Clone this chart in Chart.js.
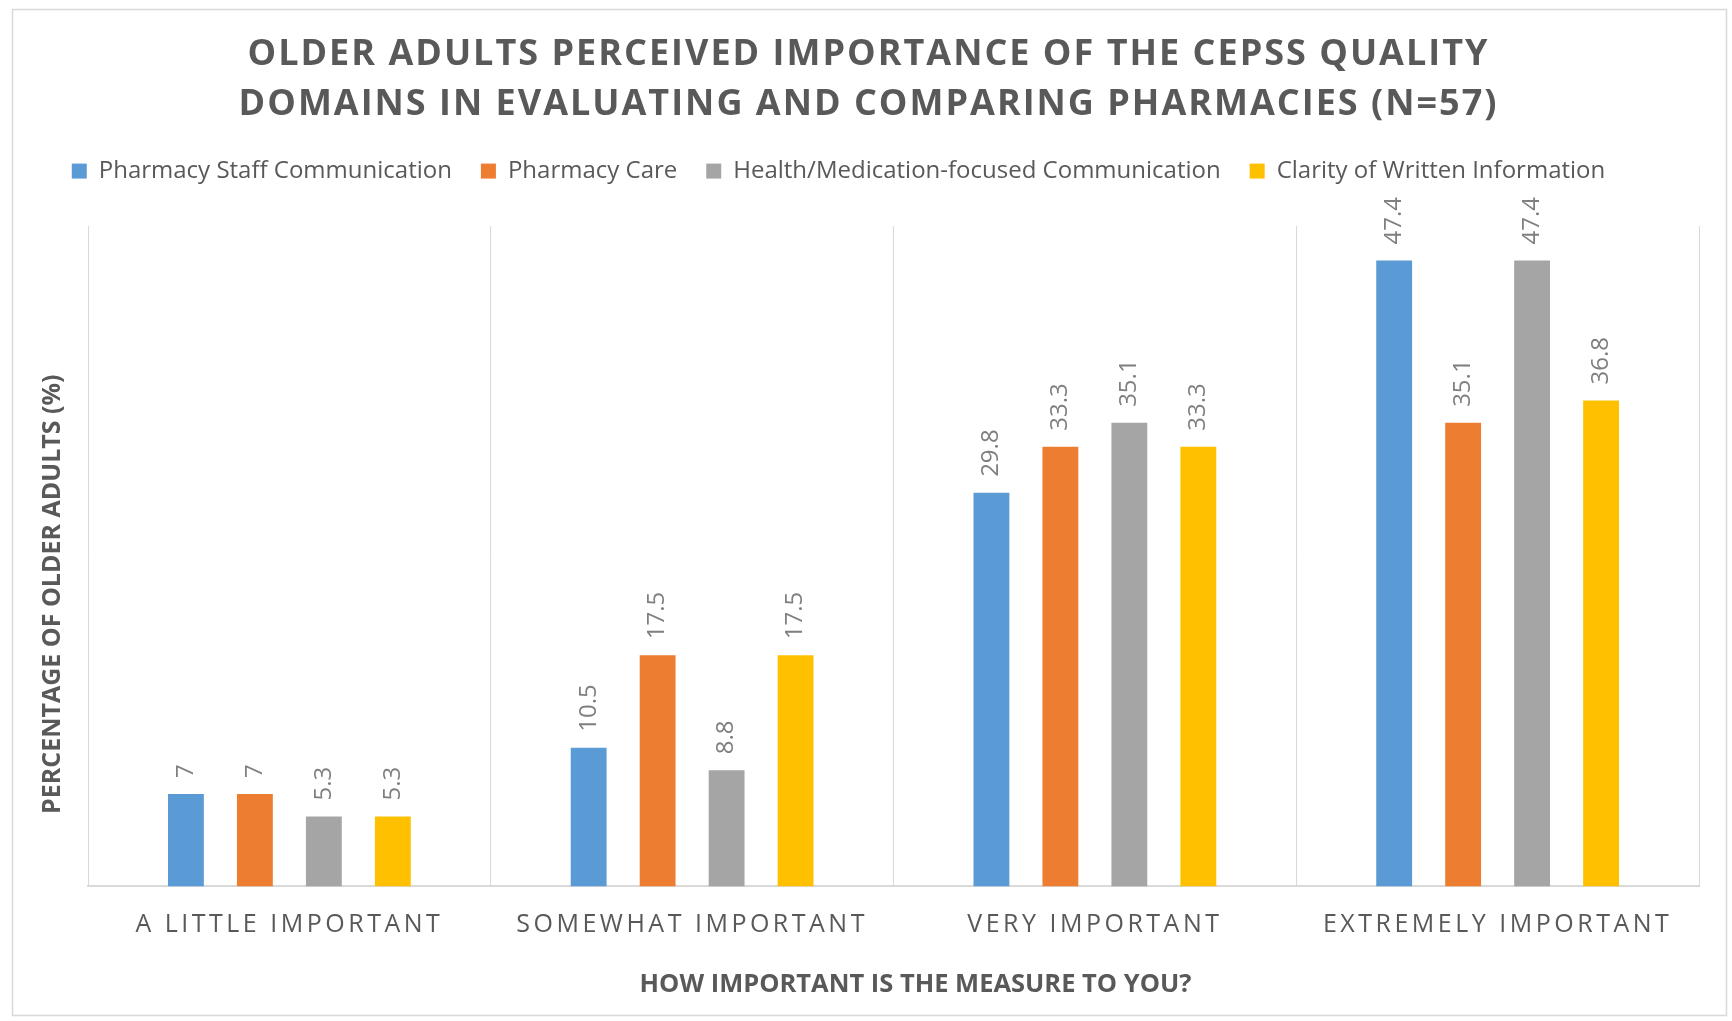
<!DOCTYPE html>
<html>
<head>
<meta charset="utf-8">
<script src="https://cdn.jsdelivr.net/npm/chart.js@4.4.0/dist/chart.umd.min.js"></script>
<style>
  body { margin: 0; background: #fff; }
  #wrap { width: 1732px; height: 1021px; position: relative; }
</style>
</head>
<body>
<div id="wrap"><canvas id="myChart"></canvas></div>
<script>
var categories = ['A LITTLE IMPORTANT', 'SOMEWHAT IMPORTANT', 'VERY IMPORTANT', 'EXTREMELY IMPORTANT'];
var seriesNames = ['Pharmacy Staff Communication', 'Pharmacy Care', 'Health/Medication-focused Communication', 'Clarity of Written Information'];
var staffComm = [7, 10.5, 29.8, 47.4];
var pharmacyCare = [7, 17.5, 33.3, 35.1];
var healthComm = [5.3, 8.8, 35.1, 47.4];
var writtenInfo = [5.3, 17.5, 33.3, 36.8];
var colors = ['#5B9BD5', '#ED7D31', '#A5A5A5', '#FFC000'];

// border round the whole chart, like the office chart frame
var frame = {
    id: 'frame',
    beforeDraw: function (chart) {
        var ctx = chart.ctx;
        ctx.save();
        ctx.strokeStyle = '#d9d9d9';
        ctx.lineWidth = 1.5;
        ctx.strokeRect(12.5, 9.5, 1714, 1006);
        ctx.restore();
    }
};

function shiftTitle(scale, dx, dy) {
    if (!scale || scale._shifted) return;
    var orig = scale.drawTitle;
    scale.drawTitle = function () {
        this.ctx.save();
        this.ctx.translate(dx, dy);
        orig.call(this);
        this.ctx.restore();
    };
    scale._shifted = true;
}

// spaced letters for title and category labels, extra room under the legend
var spacing = {
    id: 'spacing',
    afterInit: function (chart) {
        var lg = chart.legend;
        if (lg && !lg._patched) {
            var fit = lg.fit;
            lg.fit = function () {
                fit.call(this);
                this.height += 33;
            };
            lg._patched = true;
        }
    },
    afterLayout: function (chart) {
        var lg = chart.legend;
        if (lg) {
            lg.left -= 30;
            lg.right -= 30;
        }
        var x = chart.scales.x;
        if (x && !x._spaced) {
            var origLabels = x.drawLabels;
            x.drawLabels = function (a) {
                this.ctx.save();
                this.ctx.letterSpacing = '3.5px';
                origLabels.call(this, a);
                this.ctx.restore();
            };
            x._spaced = true;
        }
        shiftTitle(x, 22, 0);
        shiftTitle(chart.scales.y, 0, 38);
        var t = chart.titleBlock;
        if (t && !t._spaced) {
            var origTitle = t.draw;
            t.draw = function () {
                this.ctx.save();
                this.ctx.letterSpacing = '2px';
                origTitle.call(this);
                this.ctx.restore();
            };
            t._spaced = true;
        }
    }
};

// rotated value labels above each bar
var valueLabels = {
    id: 'valueLabels',
    afterDatasetsDraw: function (chart) {
        var ctx = chart.ctx;
        ctx.save();
        ctx.font = '24px "Open Sans"';
        ctx.fillStyle = '#7f7f7f';
        ctx.textAlign = 'left';
        ctx.textBaseline = 'middle';
        chart.data.datasets.forEach(function (ds, i) {
            chart.getDatasetMeta(i).data.forEach(function (bar, j) {
                ctx.save();
                ctx.translate(bar.x, bar.y - 16);
                ctx.rotate(-Math.PI / 2);
                ctx.fillText(String(ds.data[j]), 0, 0);
                ctx.restore();
            });
        });
        ctx.restore();
    }
};

var allData = [staffComm, pharmacyCare, healthComm, writtenInfo];
var datasets = allData.map(function (d, i) {
    return {
        label: seriesNames[i],
        data: d,
        backgroundColor: colors[i],
        categoryPercentage: 0.685,
        barPercentage: 0.52
    };
});

var ctx = document.getElementById('myChart').getContext('2d');
var myChart = new Chart(ctx, {
    type: 'bar',
    data: { labels: categories, datasets: datasets },
    plugins: [frame, spacing, valueLabels],
    options: {
        responsive: true,
        maintainAspectRatio: false,
        animation: false,
        layout: { padding: { top: 10, left: 38, right: 33, bottom: 21 } },
        plugins: {
            title: {
                display: true,
                text: ['OLDER ADULTS PERCEIVED IMPORTANCE OF THE CEPSS QUALITY', 'DOMAINS IN EVALUATING AND COMPARING PHARMACIES (N=57)'],
                color: '#595959',
                font: { family: 'Open Sans', size: 36, weight: 'bold', lineHeight: 1.39 },
                padding: { top: 20, bottom: 0 }
            },
            legend: {
                display: true,
                position: 'top',
                labels: {
                    color: '#595959',
                    font: { family: 'Open Sans', size: 24 },
                    boxWidth: 15,
                    boxHeight: 15,
                    padding: 29
                }
            },
            tooltip: { enabled: false }
        },
        scales: {
            x: {
                grid: { display: true, offset: true, color: '#d9d9d9', drawTicks: false },
                border: { display: true, color: '#d9d9d9', width: 2 },
                ticks: {
                    color: '#595959',
                    font: { family: 'Open Sans', size: 25 },
                    padding: 23,
                    maxRotation: 0
                },
                title: {
                    display: true,
                    text: 'HOW IMPORTANT IS THE MEASURE TO YOU?',
                    color: '#595959',
                    font: { family: 'Open Sans', size: 25.5, weight: 'bold' },
                    padding: { top: 7, bottom: 0 }
                }
            },
            y: {
                min: 0,
                max: 50,
                grid: { display: false },
                border: { display: false },
                ticks: { display: false },
                title: {
                    display: true,
                    text: 'PERCENTAGE OF OLDER ADULTS (%)',
                    color: '#595959',
                    font: { family: 'Open Sans', size: 25, weight: 'bold' },
                    padding: { top: 0, bottom: 12 }
                }
            }
        }
    }
});
</script>
</body>
</html>
